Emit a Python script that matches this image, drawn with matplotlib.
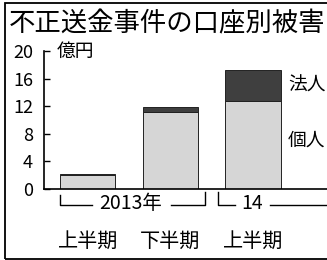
import matplotlib
matplotlib.use("Agg")
import matplotlib.pyplot as plt
from matplotlib.lines import Line2D
from matplotlib.patches import Rectangle

plt.rcParams['font.family'] = ['Noto Sans CJK JP', 'DejaVu Sans']

# データ(億円)
periods = ["上半期", "下半期", "上半期"]
individual = [2.1, 11.2, 12.8]   # 個人
corporate = [0.1, 0.7, 4.4]      # 法人
yticks = [0, 4, 8, 12, 16, 20]

W, H = 327, 260
fig = plt.figure(figsize=(W / 100, H / 100), dpi=100)

# 外枠
fig.patches.append(Rectangle((5 / W, 1 / H), 1.0, (257 / H) - (1 / H), transform=fig.transFigure,
                             fill=False, edgecolor="black", linewidth=1.3))

fig.text(9 / W, 1 - 24 / H, "不正送金事件の口座別被害", fontsize=19, va="center", ha="left")

ax = fig.add_axes([44 / W, 1 - 189 / H, 1 - 44 / W, 138 / H])
x = [0, 1, 2]
bw = 0.667
ax.bar(x, individual, width=bw, color="#d6d6d6", edgecolor="#222222", linewidth=0.7)
ax.bar(x, corporate, width=bw, bottom=individual, color="#3f3f3f", edgecolor="#222222", linewidth=0.7)

ax.set_xlim(-0.533, 2.897)
ax.set_ylim(0, 20)
ax.set_yticks(yticks)
ax.set_xticks([])
ax.tick_params(axis="y", direction="in", length=4, width=1, pad=8, labelsize=13)
for s in ["top", "right"]:
    ax.spines[s].set_visible(False)
ax.spines["left"].set_linewidth(1.2)
ax.spines["bottom"].set_linewidth(1.2)
ax.patch.set_alpha(0)

ax.text(0.045, 20, "億円", fontsize=13.5, va="center", ha="left",
        transform=ax.get_yaxis_transform())
ax.text(2 + bw / 2 + 0.09, individual[2] + corporate[2] / 2, "法人", fontsize=13.5, va="center", ha="left")
ax.text(2 + bw / 2 + 0.09, individual[2] * 0.55, "個人", fontsize=13.5, va="center", ha="left")

# 年の括弧
tr = ax.get_xaxis_transform()
y_line = -0.115
y_top = -0.04
l1 = x[0] - bw / 2
r1 = x[1] + bw / 2 + 0.085
l2 = x[2] - bw / 2 - 0.085
kw = dict(color="black", linewidth=1.0, transform=tr, clip_on=False)
ax.add_line(Line2D([l1, l1, l1 + 0.38], [y_top, y_line, y_line], **kw))
ax.add_line(Line2D([r1 - 0.41, r1, r1], [y_line, y_line, y_top + 0.02], **kw))
ax.add_line(Line2D([l2, l2, l2 + 0.2], [y_top + 0.02, y_line, y_line], **kw))
ax.add_line(Line2D([l2 + 0.62, 2.897], [y_line, y_line], **kw))
ax.text((l1 + r1) / 2 - 0.02, y_line + 0.01, "2013年", fontsize=14, ha="center", va="center", transform=tr)
ax.text(l2 + 0.41, y_line + 0.01, "14", fontsize=14, ha="center", va="center", transform=tr)

for xi, p in zip(x, periods):
    ax.text(xi, -0.38, p, fontsize=14.5, ha="center", va="center", transform=tr)

fig.savefig("out.png", dpi=100)
